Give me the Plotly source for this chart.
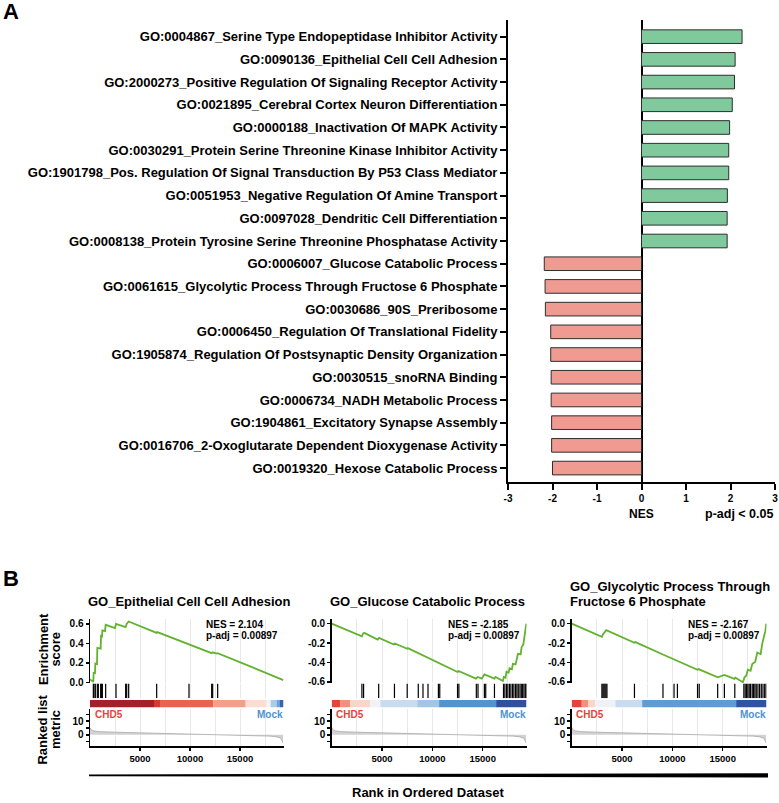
import plotly.graph_objects as go

W, H = 779, 803
FONT = "Liberation Sans, Arial, Helvetica, sans-serif"


def fx(p):
    return p / W


def fy(p):
    return 1 - p / H


# ---------------- Panel A data ----------------
go_terms = [
    "GO:0004867_Serine Type Endopeptidase Inhibitor Activity",
    "GO:0090136_Epithelial Cell Cell Adhesion",
    "GO:2000273_Positive Regulation Of Signaling Receptor Activity",
    "GO:0021895_Cerebral Cortex Neuron Differentiation",
    "GO:0000188_Inactivation Of MAPK Activity",
    "GO:0030291_Protein Serine Threonine Kinase Inhibitor Activity",
    "GO:1901798_Pos. Regulation Of Signal Transduction By P53 Class Mediator",
    "GO:0051953_Negative Regulation Of Amine Transport",
    "GO:0097028_Dendritic Cell Differentiation",
    "GO:0008138_Protein Tyrosine Serine Threonine Phosphatase Activity",
    "GO:0006007_Glucose Catabolic Process",
    "GO:0061615_Glycolytic Process Through Fructose 6 Phosphate",
    "GO:0030686_90S_Preribosome",
    "GO:0006450_Regulation Of Translational Fidelity",
    "GO:1905874_Regulation Of Postsynaptic Density Organization",
    "GO:0030515_snoRNA Binding",
    "GO:0006734_NADH Metabolic Process",
    "GO:1904861_Excitatory Synapse Assembly",
    "GO:0016706_2-Oxoglutarate Dependent Dioxygenase Activity",
    "GO:0019320_Hexose Catabolic Process",
]
nes_values = [2.26, 2.104, 2.09, 2.04, 1.98, 1.96, 1.96, 1.93, 1.925, 1.925,
              -2.185, -2.167, -2.16, -2.04, -2.04, -2.03, -2.03, -2.02, -2.02, -2.0]
nes_ticks = [-3, -2, -1, 0, 1, 2, 3]
nes_ticktext = ["-3", "-2", "-1", "0", "1", "2", "3"]

# ---------------- Panel B data ----------------
gsea_titles = [["GO_Epithelial Cell Cell Adhesion"],
               ["GO_Glucose Catabolic Process"],
               ["GO_Glycolytic Process Through", "Fructose 6 Phosphate"]]
gsea_nes = ["2.104", "-2.185", "-2.167"]
gsea_padj = ["0.00897", "0.00897", "0.00897"]

es1_rank = [0, 333, 367, 500, 533, 700, 733, 1067, 1100, 1200, 1233, 1500, 1567, 2500, 2600,
            3567, 3667, 3867, 6667, 6733, 12167, 12267, 12667, 12767, 19333]
es1_score = [0.03, 0.007, 0.098, 0.095, 0.193, 0.188, 0.353, 0.345, 0.475, 0.47, 0.532, 0.525,
             0.59, 0.556, 0.60, 0.566, 0.60, 0.624, 0.508, 0.515, 0.30, 0.308, 0.295, 0.30, 0.024]
hits1 = [333, 400, 533, 733, 833, 1067, 1167, 1233, 1567, 2600, 3567, 3667, 3867,
         6667, 9900, 12167, 12267, 12767]

es2_rank = [0, 3000, 3100, 3233, 4567, 4700, 6167, 6267, 7500, 7567, 12500, 12600, 14333, 14500,
            14900, 15167, 16167, 16267, 17000, 17100, 17267, 17367, 17567, 17667, 17900, 18000,
            18267, 18400, 18500, 18767, 18867, 19033, 19167, 19233, 19333]
es2_score = [0.0, -0.13, -0.106, -0.095, -0.164, -0.147, -0.215, -0.205, -0.259, -0.252, -0.498,
             -0.488, -0.566, -0.549, -0.566, -0.522, -0.566, -0.549, -0.59, -0.549, -0.556,
             -0.494, -0.505, -0.46, -0.47, -0.413, -0.42, -0.35, -0.31, -0.317, -0.242, -0.215,
             -0.13, -0.061, 0.0]
hits2 = [3000, 3167, 4667, 6233, 7500, 8600, 9067, 9567, 10600, 10733, 12500, 12633, 14367,
         14533, 15167, 15300, 16167, 17067, 17200, 17367, 17500, 17667, 17800, 17967, 18100,
         18267, 18400, 18533, 18700, 18833, 18967, 19100, 19233, 19333]

es3_rank = [0, 3000, 3100, 3267, 3433, 6233, 6333, 9000, 10167, 10500, 12500, 12600, 14500,
            15167, 16167, 16267, 17000, 17167, 17333, 17500, 17767, 17933, 18233, 18433, 18767,
            18933, 19100, 19233, 19333]
es3_score = [0.0, -0.136, -0.112, -0.088, -0.068, -0.197, -0.19, -0.315, -0.366, -0.383, -0.475,
             -0.468, -0.553, -0.529, -0.569, -0.556, -0.603, -0.553, -0.536, -0.475, -0.485,
             -0.417, -0.393, -0.298, -0.315, -0.203, -0.136, -0.078, 0.0]
hits3 = [3000, 3100, 3200, 3300, 3400, 3500, 6233, 9067, 10167, 10500, 12500, 12667, 14500,
         15167, 16200, 17100, 17233, 17367, 17500, 17633, 17767, 17933, 18067, 18200, 18333,
         18500, 18667, 18833, 19000, 19167, 19300]

cb1_edges = [0, 6400, 7000, 12333, 15567, 17667, 18067, 18667, 19000, 19350]
cb1_colors = ["#A3222A", "#D63B30", "#E6654F", "#F2A08A", "#FCDDD2", "#F3F3F3",
              "#A9CCE8", "#6BA3D6", "#3B62B2"]
cb2_edges = [0, 833, 1833, 3833, 4833, 8500, 10667, 16333, 19350]
cb2_colors = ["#E5433B", "#F09080", "#FAD5CA", "#F2F2F6", "#C9DCEF", "#A2C6E6",
              "#5294CE", "#2E509F"]
cb3_edges = [0, 1000, 1667, 2333, 4333, 7000, 16333, 19350]
cb3_colors = ["#E5433B", "#F09080", "#FAD5CA", "#EEF1F7", "#C9DCEF", "#5E9CD3", "#2F54A3"]

metric_rank = [0, 150, 400, 1000, 2500, 5000, 8000, 11000, 13500, 15500, 17000, 18000,
               18700, 19100, 19300]
metric_value = [5.2, 3.6, 2.8, 2.3, 1.9, 1.4, 0.9, 0.4, 0.0, -0.3, -0.6, -1.0, -1.6, -2.6, -6.0]

rank_ticks = [5000, 10000, 15000]
rank_ticktext = ["5000", "10000", "15000"]
es_ticks = [[0.0, 0.2, 0.4, 0.6], [-0.6, -0.4, -0.2, 0.0], [-0.6, -0.4, -0.2, 0.0]]
es_ranges = [[-0.01, 0.646], [-0.615, 0.044], [-0.615, 0.044]]
metric_ticks = [-5, 0, 5, 10, 15]
metric_ticktext = ["", "0", "", "10", ""]

# ---------------- layout geometry (pixels) ----------------
plot_lr = [(90, 283.5), (331.7, 526.5), (571.7, 766.5)]
rows = {"es": (623, 687.5), "hit": (687.7, 702.5), "cb": (704.3, 711.7), "rk": (713, 751)}
XMAX = 19350

fig = go.Figure()
layout = dict(
    width=W, height=H, autosize=False,
    margin=dict(l=0, r=0, t=0, b=0),
    paper_bgcolor="white", plot_bgcolor="white",
    showlegend=False, barmode="overlay",
    font=dict(family=FONT, color="black"),
)

# ---------------- Panel A ----------------
pos_terms = [t for t, v in zip(go_terms, nes_values) if v > 0]
pos_vals = [v for v in nes_values if v > 0]
neg_terms = [t for t, v in zip(go_terms, nes_values) if v < 0]
neg_vals = [v for v in nes_values if v < 0]
fig.add_trace(go.Bar(x=pos_vals, y=pos_terms, orientation="h", width=0.6,
                     marker=dict(color="#80C99C", line=dict(color="#2E2E2E", width=1)),
                     xaxis="x", yaxis="y"))
fig.add_trace(go.Bar(x=neg_vals, y=neg_terms, orientation="h", width=0.6,
                     marker=dict(color="#EF9B91", line=dict(color="#2E2E2E", width=1)),
                     xaxis="x", yaxis="y"))

layout["xaxis"] = dict(domain=[fx(508), fx(775)], range=[-3, 3], tickvals=nes_ticks,
                       ticktext=nes_ticktext,
                       ticks="outside", ticklen=6, tickwidth=2, tickcolor="black",
                       showline=True, linewidth=2, linecolor="black", showgrid=False,
                       zeroline=True, zerolinecolor="black", zerolinewidth=2,
                       tickfont=dict(size=10, weight="bold", family=FONT), anchor="y",
                       automargin=False)
layout["yaxis"] = dict(domain=[fy(485), fy(19)], type="category",
                       categoryorder="array", categoryarray=go_terms,
                       range=[19.63, -0.74], ticks="outside", ticklen=6, tickwidth=2,
                       tickcolor="black", showline=True, linewidth=2, linecolor="black",
                       showgrid=False, zeroline=False, anchor="x", automargin=False,
                       tickfont=dict(size=13, weight="bold", family=FONT))

annotations = []
shapes = []


def ann(text, x, y, size, xanchor="center", yanchor="middle", color="black", angle=0):
    annotations.append(dict(text=text, x=fx(x), y=fy(y), xref="paper", yref="paper",
                            xanchor=xanchor, yanchor=yanchor, showarrow=False,
                            textangle=angle,
                            font=dict(size=size, color=color, family=FONT)))


ann("<b>A</b>", 1, 11, 22, xanchor="left")
ann("<b>NES</b>", 641.7, 517, 12)
ann("<b>p-adj &lt; 0.05</b>", 703, 517, 12.5, xanchor="left")

# ---------------- Panel B ----------------
ann("<b>B</b>", 1, 582, 22, xanchor="left")
es_data = [(es1_rank, es1_score), (es2_rank, es2_score), (es3_rank, es3_score)]
hit_data = [hits1, hits2, hits3]
cb_data = [(cb1_edges, cb1_colors), (cb2_edges, cb2_colors), (cb3_edges, cb3_colors)]

grid_col = "#E8E8E8"
k = 2
for i in range(3):
    L, R = plot_lr[i]
    ids = {}
    for row in ["es", "hit", "cb", "rk"]:
        ids[row] = k
        k += 1
    # ES curve
    n = ids["es"]
    fig.add_trace(go.Scatter(x=es_data[i][0], y=es_data[i][1], mode="lines",
                             line=dict(color="#62B22F", width=1.8),
                             xaxis=f"x{n}", yaxis=f"y{n}"))
    layout[f"xaxis{n}"] = dict(domain=[fx(L), fx(R)], range=[0, XMAX], anchor=f"y{n}",
                               showticklabels=False, ticks="", showline=False,
                               showgrid=True, gridcolor=grid_col, gridwidth=1,
                               tick0=0, dtick=2500, zeroline=False)
    layout[f"yaxis{n}"] = dict(domain=[fy(rows["es"][1]), fy(rows["es"][0])],
                               range=es_ranges[i], anchor=f"x{n}",
                               tickvals=es_ticks[i],
                               ticktext=[f"{v:.1f}" for v in es_ticks[i]],
                               ticks="outside", ticklen=3, tickwidth=1.5, tickcolor="black",
                               showline=True, linewidth=1.5, linecolor="black",
                               showgrid=False, zeroline=False,
                               tickfont=dict(size=10, weight="bold", family=FONT))
    # hits
    n = ids["hit"]
    hx, hy = [], []
    for h in hit_data[i]:
        hx += [h, h, None]
        hy += [0, 1, None]
    fig.add_trace(go.Scatter(x=hx, y=hy, mode="lines", line=dict(color="black", width=1.2),
                             xaxis=f"x{n}", yaxis=f"y{n}"))
    layout[f"xaxis{n}"] = dict(domain=[fx(L), fx(R)], range=[0, XMAX], anchor=f"y{n}",
                               showticklabels=False, ticks="", showline=False,
                               showgrid=True, gridcolor=grid_col, gridwidth=1,
                               tick0=0, dtick=2500, zeroline=False)
    layout[f"yaxis{n}"] = dict(domain=[fy(rows["hit"][1]), fy(rows["hit"][0])],
                               range=[0, 1], anchor=f"x{n}", visible=False)
    # color bar
    n = ids["cb"]
    edges, cols = cb_data[i]
    for j in range(len(cols)):
        fig.add_trace(go.Bar(x=[edges[j + 1] - edges[j]], base=[edges[j]], y=[0],
                             orientation="h", width=1,
                             marker=dict(color=cols[j], line=dict(width=0)),
                             xaxis=f"x{n}", yaxis=f"y{n}"))
    layout[f"xaxis{n}"] = dict(domain=[fx(L), fx(R)], range=[0, XMAX], anchor=f"y{n}",
                               visible=False)
    layout[f"yaxis{n}"] = dict(domain=[fy(rows["cb"][1]), fy(rows["cb"][0])],
                               range=[-0.5, 0.5], anchor=f"x{n}", visible=False)
    # ranked list metric
    n = ids["rk"]
    fig.add_trace(go.Scatter(x=metric_rank, y=metric_value, mode="lines", fill="tozeroy",
                             fillcolor="#D2D2D2", line=dict(color="#A8A8A8", width=0.8),
                             xaxis=f"x{n}", yaxis=f"y{n}"))
    layout[f"xaxis{n}"] = dict(domain=[fx(L), fx(R)], range=[0, XMAX], anchor=f"y{n}",
                               tickvals=rank_ticks, ticktext=rank_ticktext,
                               ticks="outside", ticklen=3, tickwidth=1.5,
                               tickcolor="black", showline=True, linewidth=1.5,
                               linecolor="black", showgrid=True, gridcolor=grid_col,
                               minor=dict(tickvals=[2500, 7500, 12500, 17500], showgrid=True,
                                          gridcolor=grid_col, ticks=""),
                               zeroline=False,
                               tickfont=dict(size=9.5, weight="bold", family=FONT))
    layout[f"yaxis{n}"] = dict(domain=[fy(rows["rk"][1]), fy(rows["rk"][0])],
                               range=[-8.6, 19.3], anchor=f"x{n}",
                               tickvals=metric_ticks, ticktext=metric_ticktext,
                               ticks="outside", ticklen=3, tickwidth=1.5, tickcolor="black",
                               showline=True, linewidth=1.5, linecolor="black",
                               showgrid=False, zeroline=False,
                               tickfont=dict(size=10, weight="bold", family=FONT))
    # texts
    tl = gsea_titles[i]
    if len(tl) == 1:
        ann(f"<b>{tl[0]}</b>", L - 4, 605.5, 13, xanchor="left")
    else:
        ann(f"<b>{tl[0]}</b>", L - 4, 590, 13, xanchor="left")
        ann(f"<b>{tl[1]}</b>", L - 4, 605.5, 13, xanchor="left")
    ann(f"<b>NES = {gsea_nes[i]}</b>", L + 114, 627.7, 10, xanchor="left")
    ann(f"<b>p-adj = {gsea_padj[i]}</b>", L + 114, 639.5, 10, xanchor="left")
    ann("<b>CHD5</b>", L + 2.5, 718.5, 10, xanchor="left", color="#E8433A")
    ann("<b>Mock</b>", R + 1, 718.5, 10, xanchor="right", color="#4C92D2")

ann("<b>Enrichment</b>", 43, 653, 13, angle=-90)
ann("<b>score</b>", 55.5, 653, 13, angle=-90)
ann("<b>Ranked list</b>", 43, 734, 13, angle=-90)
ann("<b>metric</b>", 55.5, 734, 13, angle=-90)
ann("<b>Rank in Ordered Dataset</b>", 428, 797.5, 13)

# wedge line under panel B
x0, x1 = fx(89), fx(768)
path = (f"M {x0},{fy(779.2)} L {x1},{fy(778.0)} L {x1},{fy(782.4)} "
        f"L {x0},{fy(781.0)} Z")
shapes.append(dict(type="path", path=path, xref="paper", yref="paper",
                   fillcolor="black", line=dict(width=0)))

layout["annotations"] = annotations
layout["shapes"] = shapes
fig.update_layout(**layout)
fig.write_html("out.html",
               config={"displayModeBar": False, "staticPlot": True},
               post_script="document.body.style.margin='0';document.body.style.padding='0';"
                           "document.documentElement.style.overflow='hidden';")
